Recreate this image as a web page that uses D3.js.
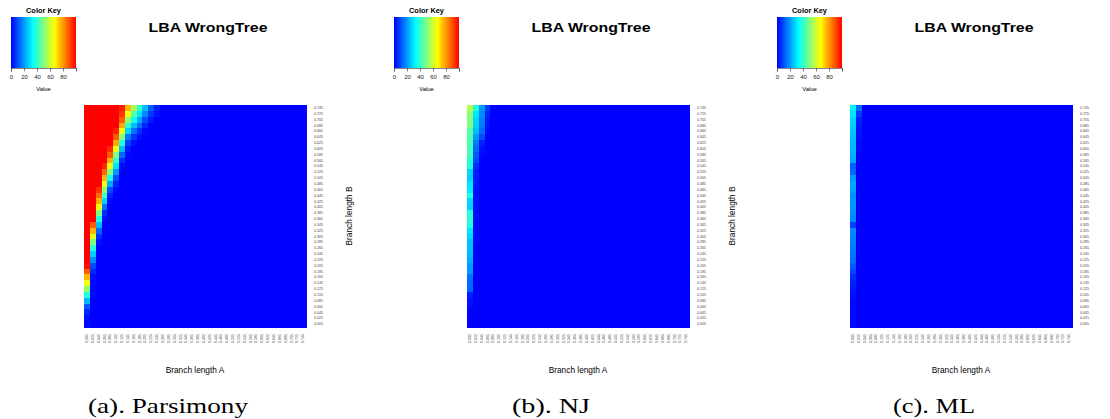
<!DOCTYPE html>
<html>
<head>
<meta charset="utf-8">
<script src="https://cdn.jsdelivr.net/npm/d3@7"></script>
<style>
  body { margin: 0; background: #fff; }
  svg { display: block; }
</style>
</head>
<body>
<svg id="fig"></svg>
<script>
const width = 1110, height = 419;
const sans = '"Liberation Sans", Arial, sans-serif';
const serif = '"Liberation Serif", "DejaVu Serif", serif';

// branch lengths on the axes
const branchA = ["0.005","0.025","0.045","0.065","0.085","0.105","0.125","0.145","0.165","0.185",
  "0.205","0.225","0.245","0.265","0.285","0.305","0.325","0.345","0.365","0.385",
  "0.405","0.425","0.445","0.465","0.485","0.505","0.525","0.545","0.565","0.585",
  "0.605","0.625","0.645","0.665","0.685","0.705","0.725","0.745"];
const branchB = branchA.slice();

const keyTicks = [0, 20, 40, 60, 80, 100];
const panelTitle = "LBA WrongTree";
const captions = ["(a). Parsimony", "(b). NJ", "(c). ML"];
const captionWidths = [160, 78, 82];

// % wrong tree, one list per row of B (top row = 0.745 first),
// leading cells of A only; the remaining cells of the row are 0
const parsimony = [
  [100,100,100,100,100,100,96,76,55,40,25,12,4],
  [100,100,100,100,100,100,93,65,45,30,18,7,2],
  [100,100,100,100,100,100,88,53,35,22,10,3],
  [100,100,100,100,100,100,78,40,25,14,5],
  [100,100,100,100,100,96,65,28,15,6,1],
  [100,100,100,100,100,88,50,16,7,2],
  [100,100,100,100,100,78,38,8,2],
  [100,100,100,100,95,65,25,3],
  [100,100,100,100,88,50,14,1],
  [100,100,100,100,77,40,6],
  [100,100,100,95,65,30,2],
  [100,100,100,87,50,20],
  [100,100,100,76,36,10],
  [100,100,100,65,22,4],
  [100,100,94,52,10,1],
  [100,100,86,42,4],
  [100,100,77,28,1],
  [100,100,65,15],
  [100,100,50,6],
  [100,100,38,2],
  [100,88,25],
  [100,76,13],
  [100,63,6],
  [100,50,2],
  [100,38],
  [100,27],
  [100,18],
  [98,10],
  [88,5],
  [76,2],
  [65,1],
  [52,1],
  [38,1],
  [24],
  [12],
  [5],
  [2],
  [1]
];

const nj = [
  [57,38,20,8],[52,30,18,5],[50,28,17,3],[50,27,16,2],[45,25,14,1],
  [44,20,10],[43,16,4],[42,14,2],[42,12,1],[38,10],
  [38,6],[28,4],[27,3],[30,3],[31,2],
  [37,2],[28,2],[27,2],[38,2],[39,2],
  [37,1],[30,1],[28,1],[25,1],[25],
  [24],[23],[20],[20],[15],
  [14],[13],[4],[2],[1],
  [],[],[]
];

const ml = [
  [32,14],[30,8],[28,4],[27,3],[26,2],
  [25,2],[24,1],[24,1],[23],[22],
  [12],[13],[20],[22],[21],
  [19],[20],[20],[19],[18],
  [8],[18],[17],[17],[16],
  [15],[14],[12],[9],[6],
  [4],[3],[2],[1],[1],
  [1],[1],[1]
];

const panels = [parsimony, nj, ml];

const svg = d3.select('#fig')
  .attr('width', width)
  .attr('height', height);

svg.append('rect').attr('width', width).attr('height', height).attr('fill', '#fff');

// colour ramp blue -> cyan -> yellow -> red
const color = d3.scaleLinear()
  .domain([0, 33.3, 66.7, 100])
  .range(['#0000ff', '#00ffff', '#ffff00', '#ff0000'])
  .clamp(true);

const panelStep = 383;
const hm = { left: 84, top: 105, size: 222 };

const xScale = d3.scaleBand().domain(branchA).range([0, hm.size]);
const yScale = d3.scaleBand().domain(branchB.slice().reverse()).range([0, hm.size]);
const keyScale = d3.scaleLinear().domain([0, 100]).range([0, 65]);

panels.forEach((rows, p) => {
  const ox = p * panelStep;
  const g = svg.append('g').attr('transform', `translate(${ox},0)`);

  // turn the short rows into cells
  const cells = [];
  rows.forEach((vals, i) => {
    branchA.forEach((a, j) => {
      cells.push({ a: a, b: branchB[branchB.length - 1 - i], v: j < vals.length ? vals[j] : 0 });
    });
  });

  // color key
  const key = g.append('g').attr('transform', 'translate(11,17)');
  key.selectAll('rect')
    .data(d3.range(0, 100, 1))
    .enter()
    .append('rect')
    .attr('x', d => keyScale(d))
    .attr('y', 0)
    .attr('width', keyScale(1) + 0.4)
    .attr('height', 51)
    .attr('shape-rendering', 'crispEdges')
    .attr('fill', d => color(d + 0.5));

  const keyAxis = d3.axisBottom(keyScale)
    .tickValues(keyTicks)
    .tickSize(3.5)
    .tickPadding(3)
    .tickFormat(d => d === 100 ? '' : d);
  key.append('g')
    .attr('transform', 'translate(0,51)')
    .call(keyAxis)
    .call(s => s.select('.domain').attr('stroke', '#333').attr('stroke-width', 0.6))
    .call(s => s.selectAll('.tick line').attr('stroke', '#333').attr('stroke-width', 0.6))
    .call(s => s.selectAll('.tick text').attr('font-size', 6).attr('fill', '#222')
      .attr('font-family', sans));

  key.append('text')
    .attr('x', 32.5).attr('y', -4)
    .attr('text-anchor', 'middle')
    .attr('font-family', sans)
    .attr('font-size', 7.4).attr('font-weight', 'bold')
    .text('Color Key');

  key.append('text')
    .attr('x', 32.5).attr('y', 74)
    .attr('text-anchor', 'middle')
    .attr('font-family', sans)
    .attr('font-size', 5.9)
    .text('Value');

  // title
  g.append('text')
    .attr('x', 208).attr('y', 32)
    .attr('text-anchor', 'middle')
    .attr('font-family', sans)
    .attr('font-size', 13.5).attr('font-weight', 'bold')
    .attr('textLength', 119).attr('lengthAdjust', 'spacingAndGlyphs')
    .text(panelTitle);

  // heatmap
  const map = g.append('g').attr('transform', `translate(${hm.left},${hm.top})`);
  map.append('rect')
    .attr('width', hm.size).attr('height', hm.size)
    .attr('fill', color(0));
  map.selectAll('rect.cell')
    .data(cells)
    .enter()
    .append('rect')
    .attr('class', 'cell')
    .attr('x', d => xScale(d.a))
    .attr('y', d => yScale(d.b))
    .attr('width', xScale.bandwidth() + 0.5)
    .attr('height', yScale.bandwidth() + 0.5)
    .attr('shape-rendering', 'crispEdges')
    .attr('fill', d => color(d.v));

  // axes, labels only
  map.append('g')
    .attr('transform', `translate(${hm.size},0)`)
    .call(d3.axisRight(yScale).tickSize(0).tickPadding(8))
    .call(s => s.select('.domain').remove())
    .call(s => s.selectAll('text').attr('font-size', 3.6).attr('fill', '#444')
      .attr('font-family', sans));

  map.append('g')
    .attr('transform', `translate(0,${hm.size})`)
    .call(d3.axisBottom(xScale).tickSize(0))
    .call(s => s.select('.domain').remove())
    .call(s => s.selectAll('text')
      .attr('font-size', 3.6).attr('fill', '#444')
      .attr('font-family', sans)
      .attr('transform', 'rotate(-90)')
      .attr('text-anchor', 'end')
      .attr('dy', '0.32em')
      .attr('x', -7).attr('y', 0));

  // axis titles (the last panel's B title falls outside the figure)
  if (p < panels.length - 1) {
    g.append('text')
      .attr('transform', `translate(${hm.left + hm.size + 46},${hm.top + hm.size / 2}) rotate(-90)`)
      .attr('text-anchor', 'middle')
      .attr('font-family', sans)
      .attr('font-size', 8.3)
      .text('Branch length B');
  }

  g.append('text')
    .attr('x', hm.left + hm.size / 2).attr('y', 373)
    .attr('text-anchor', 'middle')
    .attr('font-family', sans)
    .attr('font-size', 8.3)
    .text('Branch length A');

  // caption
  g.append('text')
    .attr('x', 168).attr('y', 413)
    .attr('text-anchor', 'middle')
    .attr('font-family', serif)
    .attr('font-size', 21)
    .attr('textLength', captionWidths[p]).attr('lengthAdjust', 'spacingAndGlyphs')
    .text(captions[p]);
});
</script>
</body>
</html>
